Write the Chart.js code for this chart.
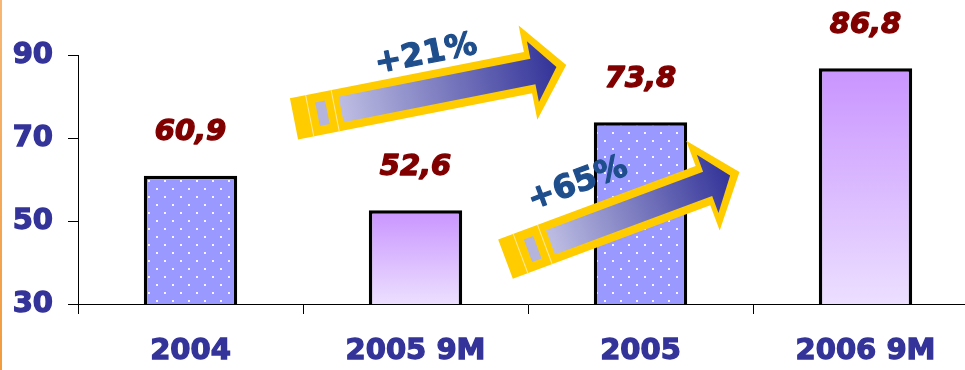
<!DOCTYPE html>
<html>
<head>
<meta charset="utf-8">
<script src="https://cdn.jsdelivr.net/npm/chart.js@4.4.1/dist/chart.umd.min.js"></script>
<style>
  html, body { margin: 0; padding: 0; background: #fff; overflow: hidden; }
  #wrap { position: relative; width: 980px; height: 370px; }
  #edge { position: absolute; left: 0; top: 0; width: 2px; height: 370px;
          background: linear-gradient(#f7b774, #f29b3e); z-index: 2; }
</style>
</head>
<body>
<div id="wrap"><div id="edge"></div><canvas id="chart" width="980" height="370"></canvas></div>
<script>
/* ------------------------------
   DATA
------------------------------ */
const categories = ['2004', '2005 9M', '2005', '2006 9M'];
const values = [60.9, 52.6, 73.8, 86.8];
const valueLabels = ['60,9', '52,6', '73,8', '86,8'];
const yTicks = [30, 50, 70, 90];
// growth arrows compare bar "from" with bar "to"
const growthFrom = [0, 1];
const growthTo = [2, 3];

/* ------------------------------
   FILLS
------------------------------ */
function dotPattern() {
  const c = document.createElement('canvas');
  c.width = 16; c.height = 16;
  const g = c.getContext('2d');
  g.fillStyle = '#9999FF';
  g.fillRect(0, 0, 16, 16);
  g.fillStyle = '#F4F4FF';
  g.fillRect(4, 4, 2, 2);
  g.fillRect(12, 12, 2, 2);
  return g.createPattern(c, 'repeat');
}
const dots = dotPattern();

function barFill(ctx) {
  const i = ctx.dataIndex;
  if (i === 0 || i === 2) return dots;
  const chart = ctx.chart;
  const y = chart.scales && chart.scales.y;
  if (!y || !chart.chartArea) return '#D9B8FF';
  const top = y.getPixelForValue(values[i]);
  const bottom = y.getPixelForValue(yTicks[0]);
  const g = chart.ctx.createLinearGradient(0, top, 0, bottom);
  g.addColorStop(0, '#C994FF');
  g.addColorStop(1, '#ECDFFF');
  return g;
}

/* ------------------------------
   VALUE LABELS + ARROWS
------------------------------ */
function heavyText(ctx, text, x, y, color, w) {
  ctx.fillStyle = color;
  ctx.strokeStyle = color;
  ctx.lineWidth = w;
  ctx.lineJoin = 'round';
  ctx.strokeText(text, x, y);
  ctx.fillText(text, x, y);
}

const valueLabelPlugin = {
  id: 'valueLabels',
  afterDatasetsDraw(chart) {
    const ctx = chart.ctx;
    const meta = chart.getDatasetMeta(0);
    ctx.save();
    ctx.font = 'italic bold 29px "DejaVu Sans"';
    ctx.textAlign = 'center';
    ctx.textBaseline = 'middle';
    meta.data.forEach((bar, i) => {
      heavyText(ctx, valueLabels[i], bar.x, bar.y - 43, '#800000', 1.4);
    });
    ctx.restore();
  }
};

function poly(ctx, pts) {
  ctx.beginPath();
  pts.forEach((p, k) => k ? ctx.lineTo(p[0], p[1]) : ctx.moveTo(p[0], p[1]));
  ctx.closePath();
}

function drawArrow(ctx, x0, y0, x1, y1, text, tAlong, tOff) {
  const len = Math.hypot(x1 - x0, y1 - y0);
  ctx.save();
  ctx.translate(x0, y0);
  ctx.rotate(Math.atan2(y1 - y0, x1 - x0));

  const sw = 21, hw = 48, hl = 39;
  poly(ctx, [[0, -sw], [len - hl, -sw], [len - hl, -hw], [len, 0],
             [len - hl, hw], [len - hl, sw], [0, sw]]);
  ctx.fillStyle = '#FFCC00';
  ctx.fill();

  const s0 = 48, it = len - 10, isw = 13, ihw = 31, ihl = 24;
  const g = ctx.createLinearGradient(s0, 0, it, 0);
  g.addColorStop(0, '#BDBDE3');
  g.addColorStop(1, '#333399');
  poly(ctx, [[s0, -isw], [it - ihl, -isw], [it - ihl, -ihw], [it, 0],
             [it - ihl, ihw], [it - ihl, isw], [s0, isw]]);
  ctx.fillStyle = g;
  ctx.fill();

  // tail stripes
  ctx.fillStyle = '#B4B4DC';
  ctx.fillRect(24, -12, 10, 24);
  ctx.strokeStyle = 'rgba(255,236,170,0.9)';
  ctx.lineWidth = 1;
  [16, 42].forEach(a => {
    ctx.beginPath();
    ctx.moveTo(a, -sw); ctx.lineTo(a, sw);
    ctx.stroke();
  });

  ctx.font = 'bold 32px "DejaVu Sans"';
  ctx.textAlign = 'center';
  ctx.textBaseline = 'middle';
  heavyText(ctx, text, tAlong, tOff, '#1F4E8C', 1.2);
  ctx.restore();
}

const arrowPlugin = {
  id: 'growthArrows',
  afterDatasetsDraw(chart, args, opts) {
    const x = chart.scales.x, y = chart.scales.y;
    opts.arrows.forEach((a, k) => {
      const pct = Math.round((values[growthTo[k]] / values[growthFrom[k]] - 1) * 100);
      drawArrow(chart.ctx,
        x.getPixelForValue(a.tail[0]), y.getPixelForValue(a.tail[1]),
        x.getPixelForValue(a.tip[0]), y.getPixelForValue(a.tip[1]),
        '+' + pct + '%', a.text[0], a.text[1]);
    });
  }
};

/* ------------------------------
   CHART
------------------------------ */
const tickFont = { family: 'DejaVu Sans', size: 29, weight: 'bold' };

new Chart(document.getElementById('chart'), {
  type: 'bar',
  data: {
    labels: categories,
    datasets: [{
      data: values,
      backgroundColor: barFill,
      borderColor: '#000',
      borderWidth: 3.5,
      borderSkipped: false,
      categoryPercentage: 1,
      barPercentage: 0.415
    }]
  },
  options: {
    responsive: false,
    animation: false,
    devicePixelRatio: 1,
    layout: { padding: { top: 55, right: 2, left: 0, bottom: 0 } },
    plugins: {
      legend: { display: false },
      tooltip: { enabled: false },
      growthArrows: {
        arrows: [
          { tail: [0.46, 74.6], tip: [1.67, 87.6], text: [142, -37] },
          { tail: [1.40, 40.8], tip: [2.44, 61.8], text: [94, -45] }
        ]
      }
    },
    scales: {
      x: {
        afterFit: s => { s.height = 66; },
        grid: { drawOnChartArea: false, drawTicks: true, tickLength: 10, color: '#000', offset: true },
        border: { display: true, color: '#000', width: 1 },
        ticks: { color: '#333399', padding: 20, font: tickFont,
                 textStrokeColor: '#333399', textStrokeWidth: 1.3 }
      },
      y: {
        min: yTicks[0],
        max: yTicks[yTicks.length - 1],
        afterFit: s => { s.width = 78; },
        afterBuildTicks: s => { s.ticks = yTicks.map(v => ({ value: v })); },
        grid: { drawOnChartArea: false, drawTicks: true, tickLength: 10, color: '#000' },
        border: { display: true, color: '#000', width: 1 },
        ticks: { color: '#333399', padding: 15, font: tickFont,
                 textStrokeColor: '#333399', textStrokeWidth: 1.3 }
      }
    }
  },
  plugins: [valueLabelPlugin, arrowPlugin]
});
</script>
</body>
</html>
